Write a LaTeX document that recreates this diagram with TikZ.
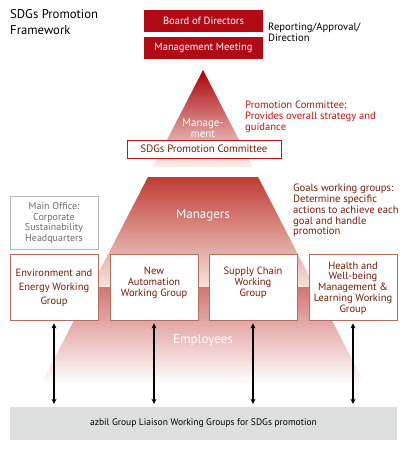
\documentclass[tikz,border=0pt]{standalone}
\usepackage{fontspec}
\setmainfont{PT Sans}
\usetikzlibrary{arrows.meta}
\definecolor{boardred}{RGB}{178,10,20}
\definecolor{comred}{RGB}{192,20,20}
\definecolor{grptext}{RGB}{115,28,10}
\definecolor{grpline}{RGB}{180,110,90}
\definecolor{grayline}{RGB}{185,185,185}
\definecolor{graytext}{RGB}{110,110,110}
\definecolor{barfill}{RGB}{221,222,222}
\definecolor{triA}{RGB}{170,0,5}
\definecolor{triB}{RGB}{205,100,80}
\definecolor{triC}{RGB}{250,240,235}
\definecolor{manA}{RGB}{190,60,52}
\definecolor{manB}{RGB}{218,140,120}
\definecolor{manC}{RGB}{246,228,222}
\definecolor{empA}{RGB}{212,118,118}
\definecolor{empB}{RGB}{232,180,165}
\begin{document}
\begin{tikzpicture}[x=1pt,y=-1pt,
  redbox/.style={fill=boardred,draw=none,text=white,minimum width=119pt,minimum height=22pt,inner sep=0pt,font=\fontsize{10.5}{12}\selectfont},
  combox/.style={fill=white,draw=comred,line width=0.8pt,text=grptext,minimum width=154pt,minimum height=18pt,inner sep=0pt,font=\fontsize{10.7}{12}\selectfont},
  grpbox/.style={fill=white,draw=grpline,line width=0.8pt,minimum width=88pt,minimum height=66pt,inner sep=0pt},
  grptxt/.style={text=grptext,align=center,inner sep=0pt,font=\fontsize{10.5}{10.8}\selectfont},
  whitetxt/.style={text=white,align=center,inner sep=0pt},
  dbl/.style={{Stealth[length=5pt,width=5pt]}-{Stealth[length=5pt,width=5pt]},line width=2.2pt,black},
  note/.style={align=left,anchor=north west,inner sep=0pt,font=\fontsize{10.6}{10.8}\selectfont}
]
\useasboundingbox (0,0) rectangle (410,450);
% pyramid bands
\shade[top color=triA, middle color=triB, bottom color=triC] (203,70) -- (253.0,167) -- (153.0,167) -- cycle;
\shade[top color=manA, middle color=manB, bottom color=manC] (147.9,177) -- (258.1,177) -- (314.8,287) -- (91.2,287) -- cycle;
\shade[top color=empA, middle color=empB, bottom color=white] (91.2,287) -- (314.8,287) -- (365.2,385) -- (40.8,385) -- cycle;

% title
\node[note,font=\fontsize{12.7}{16}\selectfont] (title) at (10,9) {SDGs Promotion\\Framework};

% top boxes
\node[redbox] (board) at (203.5,21) {Board of Directors};
\node[redbox] (meet) at (203.5,48) {Management Meeting};
\node[note] (rep) at (268,23) {Reporting/Approval/\\Direction};

% management
\node[whitetxt,font=\fontsize{11}{11}\selectfont] (mgmt) at (203,128) {Manage-\\ment};
\node[combox] (com) at (204,149) {SDGs Promotion Committee};
\node[note,text=comred] (comnote) at (245,101) {Promotion Committee:\\Provides overall strategy and\\guidance};

% managers
\node[whitetxt,font=\fontsize{13}{13}\selectfont] (mgrs) at (203,215) {Managers};
\node[note,text=grptext] (goalnote) at (293,184) {Goals working groups:\\Determine specific\\actions to achieve each\\goal and handle\\promotion};

% main office
\node[fill=white,draw=grayline,line width=0.8pt,minimum width=88pt,minimum height=53pt,inner sep=0pt] (office) at (54,222.5) {};
\node[text=graytext,align=center,inner sep=0pt,font=\fontsize{10}{10.5}\selectfont] (officet) at (54,223) {Main Office:\\Corporate\\Sustainability\\Headquarters};

% groups
\node[grpbox] (g1) at (54,287) {};
\node[grpbox] (g2) at (154,287) {};
\node[grpbox] (g3) at (253,287) {};
\node[grpbox] (g4) at (353,287) {};
\node[grptxt,font=\fontsize{10.5}{14}\selectfont] (g1t) at (54,288) {Environment and\\Energy Working\\Group};
\node[grptxt] (g2t) at (154,283) {New\\Automation\\Working Group};
\node[grptxt] (g3t) at (253,283) {Supply Chain\\Working\\Group};
\node[grptxt] (g4t) at (353,288) {Health and\\Well-being\\Management \&\\Learning Working\\Group};

% employees
\node[whitetxt,font=\fontsize{13}{13}\selectfont] (emp) at (203,340) {Employees};

% bottom bar
\node[fill=barfill,draw=none,minimum width=387pt,minimum height=33pt,inner sep=0pt,font=\fontsize{9.5}{10}\selectfont] (bar) at (203.5,423.5) {azbil Group Liaison Working Groups for SDGs promotion};

% arrows
\foreach \g in {g1,g2,g3,g4}{
  \draw[dbl] ([yshift=-3pt]\g.south) -- ([yshift=3pt]\g.south |- bar.north);
}
\end{tikzpicture}
\end{document}
